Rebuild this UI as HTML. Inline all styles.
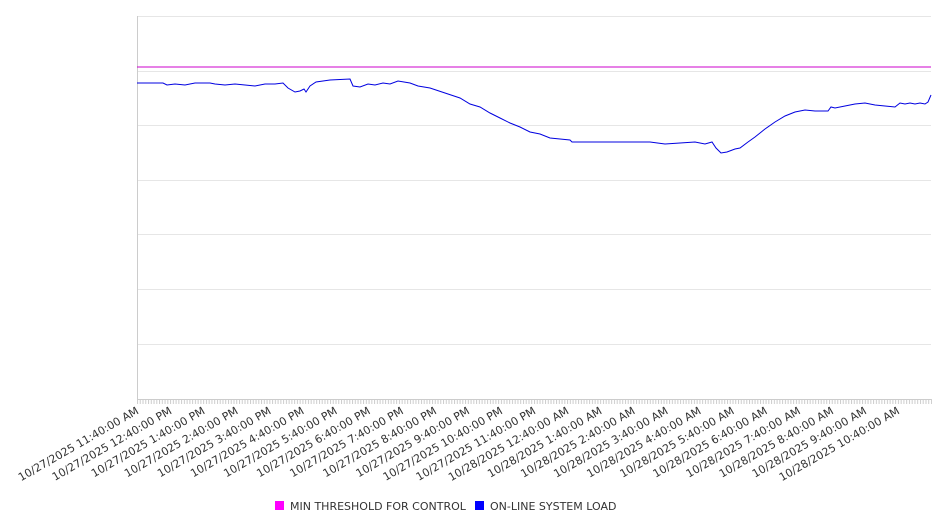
<!DOCTYPE html>
<html><head><meta charset="utf-8"><style>
html,body{margin:0;padding:0;background:#fff;}
svg{display:block;font-family:"DejaVu Sans","Liberation Sans",sans-serif;}
</style></head><body>
<svg width="946" height="526" viewBox="0 0 946 526" xmlns="http://www.w3.org/2000/svg">
<defs>
<pattern id="tk" x="137" y="0" width="2.7569" height="10" patternUnits="userSpaceOnUse">
<rect x="0" y="0" width="1" height="10" fill="#ccc"/>
</pattern>
</defs>
<g stroke="#e6e6e6" stroke-width="1">
<line x1="137" y1="16.5" x2="931" y2="16.5"/>
<line x1="137" y1="71.5" x2="931" y2="71.5"/>
<line x1="137" y1="125.5" x2="931" y2="125.5"/>
<line x1="137" y1="180.5" x2="931" y2="180.5"/>
<line x1="137" y1="234.5" x2="931" y2="234.5"/>
<line x1="137" y1="289.5" x2="931" y2="289.5"/>
<line x1="137" y1="344.5" x2="931" y2="344.5"/>
</g>
<line x1="137.5" y1="16" x2="137.5" y2="399" stroke="#ccc"/>
<line x1="137" y1="399.5" x2="931" y2="399.5" stroke="#ccc"/>
<rect x="137" y="399" width="795" height="5" fill="url(#tk)"/>
<line x1="137" y1="67" x2="931" y2="67" stroke="#cc00cc" stroke-width="1"/>
<polyline fill="none" stroke="#0000e0" stroke-width="1" points="137,83 163,83 167,85 175,84 185,85 195,83 210,83 215,84 225,85 235,84 245,85 255,86 265,84 275,84 283,83 288,88 295,92 300,91 304,89 306,92 310,86 316,82 330,80 350,79 353,86 360,87 368,84 375,85 383,83 390,84 398,81 410,83 418,86 430,88 445,93 460,98 470,104 480,107 490,113 500,118 510,123 520,127 530,132 540,134 550,138 560,139 570,140 572,142 590,142 610,142 630,142 650,142 665,144 680,143 695,142 705,144 712,142 716,148 721,153 727,152 735,149 740,148 748,142 755,137 765,129 775,122 785,116 795,112 805,110 815,111 828,111 831,107 835,108 845,106 855,104 865,103 875,105 885,106 895,107 900,103 905,104 910,103 915,104 920,103 925,104 928,102 931,95"/>
<g font-size="11" fill="#333" text-anchor="end">
<text transform="translate(139.5,413) rotate(-30)">10/27/2025 11:40:00 AM</text>
<text transform="translate(172.6,413) rotate(-30)">10/27/2025 12:40:00 PM</text>
<text transform="translate(205.7,413) rotate(-30)">10/27/2025 1:40:00 PM</text>
<text transform="translate(238.8,413) rotate(-30)">10/27/2025 2:40:00 PM</text>
<text transform="translate(271.8,413) rotate(-30)">10/27/2025 3:40:00 PM</text>
<text transform="translate(304.9,413) rotate(-30)">10/27/2025 4:40:00 PM</text>
<text transform="translate(338.0,413) rotate(-30)">10/27/2025 5:40:00 PM</text>
<text transform="translate(371.1,413) rotate(-30)">10/27/2025 6:40:00 PM</text>
<text transform="translate(404.2,413) rotate(-30)">10/27/2025 7:40:00 PM</text>
<text transform="translate(437.3,413) rotate(-30)">10/27/2025 8:40:00 PM</text>
<text transform="translate(470.3,413) rotate(-30)">10/27/2025 9:40:00 PM</text>
<text transform="translate(503.4,413) rotate(-30)">10/27/2025 10:40:00 PM</text>
<text transform="translate(536.5,413) rotate(-30)">10/27/2025 11:40:00 PM</text>
<text transform="translate(569.6,413) rotate(-30)">10/28/2025 12:40:00 AM</text>
<text transform="translate(602.7,413) rotate(-30)">10/28/2025 1:40:00 AM</text>
<text transform="translate(635.8,413) rotate(-30)">10/28/2025 2:40:00 AM</text>
<text transform="translate(668.8,413) rotate(-30)">10/28/2025 3:40:00 AM</text>
<text transform="translate(701.9,413) rotate(-30)">10/28/2025 4:40:00 AM</text>
<text transform="translate(735.0,413) rotate(-30)">10/28/2025 5:40:00 AM</text>
<text transform="translate(768.1,413) rotate(-30)">10/28/2025 6:40:00 AM</text>
<text transform="translate(801.2,413) rotate(-30)">10/28/2025 7:40:00 AM</text>
<text transform="translate(834.3,413) rotate(-30)">10/28/2025 8:40:00 AM</text>
<text transform="translate(867.3,413) rotate(-30)">10/28/2025 9:40:00 AM</text>
<text transform="translate(900.4,413) rotate(-30)">10/28/2025 10:40:00 AM</text>
</g>
<rect x="275" y="501" width="9" height="9" fill="#ff00ff"/>
<text x="290" y="510" font-size="11" fill="#333">MIN THRESHOLD FOR CONTROL</text>
<rect x="475" y="501" width="9" height="9" fill="#0000ff"/>
<text x="490" y="510" font-size="11" fill="#333">ON-LINE SYSTEM LOAD</text>
</svg>
</body></html>
